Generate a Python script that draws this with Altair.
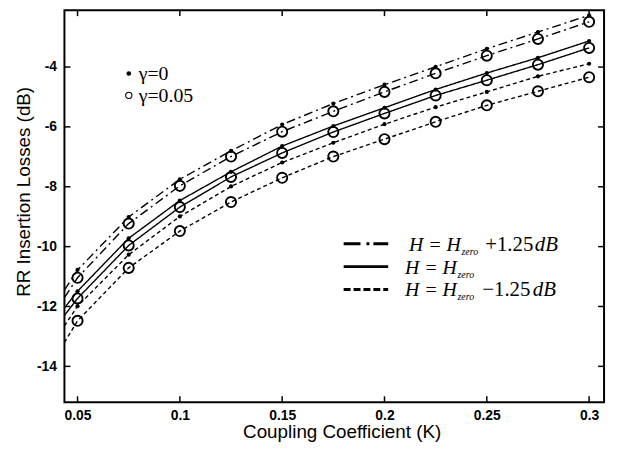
import altair as alt
import pandas as pd

# ---------------- data ----------------
K = [0.05, 0.075, 0.1, 0.125, 0.15, 0.175, 0.2, 0.225, 0.25, 0.275, 0.3]
K_START = 0.0436  # curves start at the left frame

plus_g0 = [-10.78, -9.01, -7.75, -6.80, -5.92, -5.22, -4.59, -3.99, -3.39, -2.83, -2.27]
plus_g05 = [-11.04, -9.23, -7.97, -6.99, -6.16, -5.48, -4.83, -4.21, -3.62, -3.06, -2.49]
zero_g0 = [-11.49, -9.72, -8.46, -7.50, -6.64, -5.97, -5.36, -4.75, -4.20, -3.69, -3.13]
zero_g05 = [-11.73, -9.96, -8.68, -7.67, -6.87, -6.17, -5.55, -4.95, -4.44, -3.92, -3.36]
minus_g0 = [-11.99, -10.27, -8.99, -7.99, -7.19, -6.53, -5.91, -5.34, -4.83, -4.31, -3.89]
minus_g05 = [-12.48, -10.71, -9.48, -8.51, -7.70, -6.99, -6.41, -5.83, -5.28, -4.81, -4.34]
start_vals = [-11.45, -11.70, -12.05, -12.30, -12.65, -13.20]

H_cases = ["plus", "plus", "zero", "zero", "minus", "minus"]
gammas = ["0", "0.05", "0", "0.05", "0", "0.05"]
series_vals = [plus_g0, plus_g05, zero_g0, zero_g05, minus_g0, minus_g05]

x_ticks = [0.05, 0.1, 0.15, 0.2, 0.25, 0.3]
y_ticks = [-14, -12, -10, -8, -6, -4]

X_DOMAIN = [0.0436, 0.3073]
Y_DOMAIN = [-15.2, -2.1]
W, H = 545, 396

# ---------------- tables ----------------
line_rows, pt_rows = [], []
for h, g, vals, s0 in zip(H_cases, gammas, series_vals, start_vals):
    sid = f"{h}_{g}"
    line_rows.append({"K": K_START, "L": s0, "H": h, "g": g, "sid": sid, "o": 0})
    for j, (k, v) in enumerate(zip(K, vals)):
        line_rows.append({"K": k, "L": v, "H": h, "g": g, "sid": sid, "o": j + 1})
        pt_rows.append({"K": k, "L": v, "H": h, "g": g})
lines_df = pd.DataFrame(line_rows)
pts_df = pd.DataFrame(pt_rows)

xs = alt.Scale(domain=X_DOMAIN, nice=False, zero=False)
ys = alt.Scale(domain=Y_DOMAIN, nice=False, zero=False)

x_axis = alt.Axis(values=x_ticks, labelExpr="'' + datum.value",
                  grid=False, domain=False, ticks=False,
                  labelFont="Liberation Sans", labelFontWeight="bold",
                  labelFontSize=14, labelPadding=6, labelColor="black",
                  titleFont="Liberation Sans", titleFontWeight="normal",
                  titleFontSize=19, titlePadding=1, titleColor="black",
                  titleX=280)
y_axis = alt.Axis(values=y_ticks, labelExpr="'-' + abs(datum.value)",
                  grid=False, domain=False, ticks=False,
                  labelFont="Liberation Sans", labelFontWeight="bold",
                  labelFontSize=14, labelPadding=8, labelColor="black",
                  titleFont="Liberation Sans", titleFontWeight="normal",
                  titleFontSize=19, titlePadding=3, titleColor="black",
                  titleY=183)
X_TITLE = "Coupling Coefficient (K)"
Y_TITLE = "RR Insertion Losses (dB)"


def xenc():
    return alt.X("K:Q", scale=xs, axis=x_axis, title=X_TITLE)


def yenc():
    return alt.Y("L:Q", scale=ys, axis=y_axis, title=Y_TITLE)


dash_scale = alt.Scale(domain=["plus", "zero", "minus"],
                       range=[[9, 4, 2, 4], [1, 0], [4, 3]])

base_lines = alt.Chart(lines_df).mark_line(color="black", strokeWidth=1.4).encode(
    x=xenc(), y=yenc(),
    strokeDash=alt.StrokeDash("H:N", scale=dash_scale, legend=None),
    detail="sid:N",
    order="o:Q",
)

dots = alt.Chart(pts_df).transform_filter("datum.g == '0'").mark_circle(
    color="black", size=18, opacity=1).encode(x=xenc(), y=yenc())

circles = alt.Chart(pts_df).transform_filter("datum.g == '0.05'").mark_point(
    shape="circle", filled=False, color="black", size=105, strokeWidth=1.9,
    opacity=1).encode(x=xenc(), y=yenc())

# inward ticks (MATLAB style), on all four sides
xt = pd.DataFrame({"K": x_ticks})
yt = pd.DataFrame({"L": y_ticks})
tick_style = dict(color="black", strokeWidth=1.5)
xt_bottom = alt.Chart(xt).mark_rule(**tick_style).encode(
    x=xenc(), y=alt.value(H), y2=alt.value(H - 6))
xt_top = alt.Chart(xt).mark_rule(**tick_style).encode(
    x=xenc(), y=alt.value(0), y2=alt.value(6))
yt_left = alt.Chart(yt).mark_rule(**tick_style).encode(
    y=yenc(), x=alt.value(0), x2=alt.value(6))
yt_right = alt.Chart(yt).mark_rule(**tick_style).encode(
    y=yenc(), x=alt.value(W), x2=alt.value(W - 6))

one = pd.DataFrame({"a": [0]})
serif = "Liberation Serif"

# gamma legend
g_dot = alt.Chart(one).mark_circle(color="black", size=22, opacity=1).encode(
    x=alt.value(65), y=alt.value(64))
g_circ = alt.Chart(one).mark_point(shape="circle", filled=False, color="black",
                                   size=40, strokeWidth=1.1, opacity=1).encode(
    x=alt.value(65), y=alt.value(86))


def txt(x, y, s, size=20, style="normal"):
    return alt.Chart(one).mark_text(font=serif, fontSize=size, fontStyle=style,
                                    align="left", baseline="alphabetic",
                                    color="black").encode(
        x=alt.value(x), y=alt.value(y), text=alt.value(s))


g_txt1 = txt(75, 71, "γ=0")
g_txt2 = txt(75, 93, "γ=0.05")

# line-style legend
row_y = [236, 259, 282]
samples = []
for yy, dash in zip(row_y, [[17, 6, 3, 4], [1, 0], [7, 3]]):
    samples.append(alt.Chart(one).mark_rule(color="black", strokeWidth=3,
                                            strokeDash=dash).encode(
        x=alt.value(282), x2=alt.value(327), y=alt.value(yy)))

legend_txt = [
    txt(348, row_y[0] + 7, "H = H", style="italic"),
    txt(401, row_y[0] + 11, "zero", size=10, style="italic"),
    txt(425, row_y[0] + 7, "+1.25", size=21),
    txt(475, row_y[0] + 7, "dB", size=21, style="italic"),
    txt(344, row_y[1] + 7, "H = H", style="italic"),
    txt(397, row_y[1] + 11, "zero", size=10, style="italic"),
    txt(344, row_y[2] + 7, "H = H", style="italic"),
    txt(397, row_y[2] + 11, "zero", size=10, style="italic"),
    txt(422, row_y[2] + 7, "\u22121.25", size=21),
    txt(473, row_y[2] + 7, "dB", size=21, style="italic"),
]

chart = alt.layer(
    base_lines, dots, circles, xt_bottom, xt_top, yt_left, yt_right,
    g_dot, g_circ, g_txt1, g_txt2, *samples, *legend_txt
).properties(
    width=W, height=H,
    autosize=alt.AutoSizeParams(type="none"),
    padding={"left": 57, "top": 0, "right": 6, "bottom": 45},
    background="white",
).configure_view(stroke="black", strokeWidth=2)

chart.save("out.html", embed_options={"renderer": "svg", "actions": False})
